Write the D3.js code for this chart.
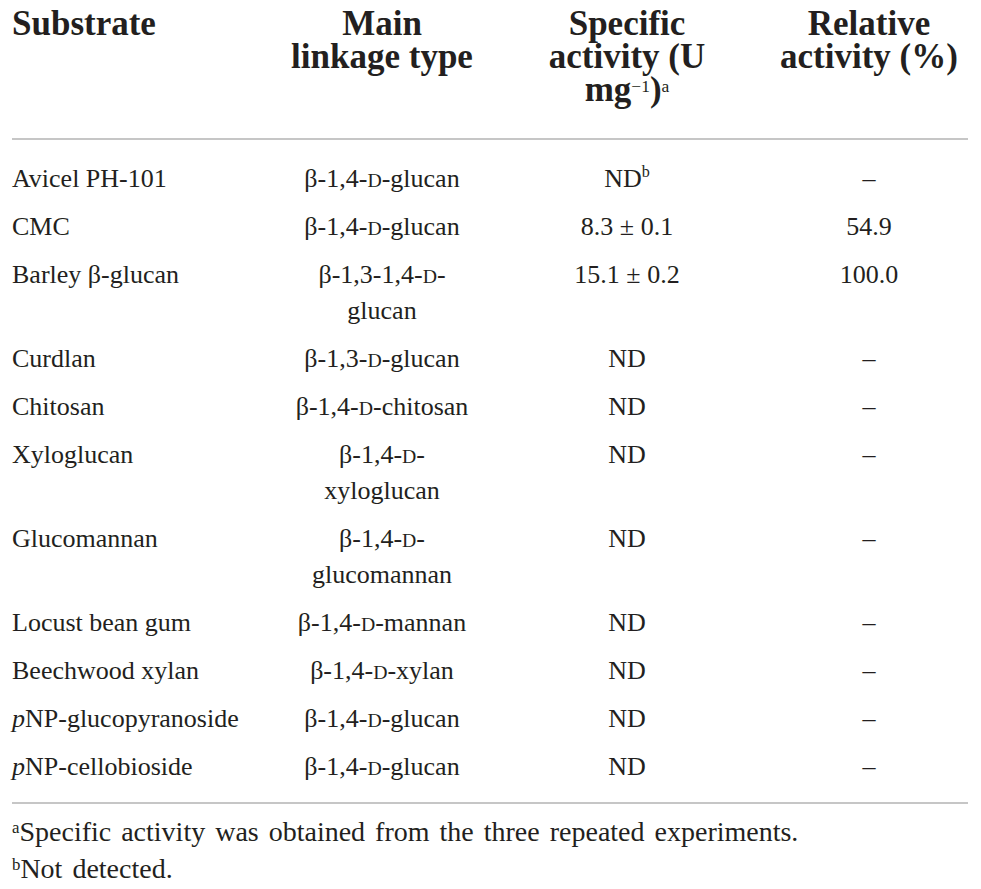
<!DOCTYPE html>
<html>
<head>
<meta charset="utf-8">
<script src="https://cdn.jsdelivr.net/npm/d3@7"></script>
<style>
  body { margin: 0; background: #fff; }
  svg text { font-family: "Liberation Serif", "DejaVu Serif", serif; fill: #231f20; }
</style>
</head>
<body>
<div id="table"></div>
<script>
// markup: _x_ italic, ~x~ small caps, ^x^ superscript
var headers = [
  ["Substrate"],
  ["Main", "linkage type"],
  ["Specific", "activity (U", "mg^\u22121^)^a^"],
  ["Relative", "activity (%)"]
];

var substrates = [
  "Avicel PH-101", "CMC", "Barley \u03b2-glucan", "Curdlan", "Chitosan",
  "Xyloglucan", "Glucomannan", "Locust bean gum", "Beechwood xylan",
  "_p_NP-glucopyranoside", "_p_NP-cellobioside"
];

var linkages = [
  ["\u03b2-1,4-~D~-glucan"],
  ["\u03b2-1,4-~D~-glucan"],
  ["\u03b2-1,3-1,4-~D~-", "glucan"],
  ["\u03b2-1,3-~D~-glucan"],
  ["\u03b2-1,4-~D~-chitosan"],
  ["\u03b2-1,4-~D~-", "xyloglucan"],
  ["\u03b2-1,4-~D~-", "glucomannan"],
  ["\u03b2-1,4-~D~-mannan"],
  ["\u03b2-1,4-~D~-xylan"],
  ["\u03b2-1,4-~D~-glucan"],
  ["\u03b2-1,4-~D~-glucan"]
];

var specificActivity = ["ND^b^", "8.3 \u00b1 0.1", "15.1 \u00b1 0.2", "ND", "ND", "ND", "ND", "ND", "ND", "ND", "ND"];
var relativeActivity = ["\u2013", "54.9", "100.0", "\u2013", "\u2013", "\u2013", "\u2013", "\u2013", "\u2013", "\u2013", "\u2013"];

var footnotes = [
  "^a^Specific activity was obtained from the three repeated experiments.",
  "^b^Not detected."
];

var W = 981, H = 889;
var colX = [12, 382, 627, 869];
var colAnchor = ["start", "middle", "middle", "middle"];
var headFs = 35, bodyFs = 26, footFs = 28;

var svg = d3.select("#table").append("svg")
  .attr("width", W)
  .attr("height", H);

function parse(s) {
  return s.split(/(_[^_]+_|~[^~]+~|\^[^^]+\^)/).filter(function(d){ return d.length; }).map(function(d){
    if (d[0] == "_") return {t: d.slice(1, -1), kind: "it"};
    if (d[0] == "~") return {t: d.slice(1, -1), kind: "sc"};
    if (d[0] == "^") return {t: d.slice(1, -1), kind: "sup"};
    return {t: d, kind: "n"};
  });
}

// one <text> per cell, one positioned tspan per line
// opt.supSize / opt.supRise are fractions of the font size
function cellText(g, lines, x, y, lh, fs, anchor, opt) {
  opt = opt || {};
  var supSize = opt.supSize || 0.62, supRise = opt.supRise || 0.38;
  var text = g.append("text")
    .attr("text-anchor", anchor)
    .style("font-size", fs + "px")
    .style("font-weight", opt.weight || "normal");
  if (opt.wordSpacing) text.style("word-spacing", opt.wordSpacing + "px");
  lines.forEach(function(str, i){
    var line = text.append("tspan").attr("x", x).attr("y", y + i * lh);
    var shift = 0;
    parse(str).forEach(function(seg){
      var ts = line.append("tspan").text(seg.t);
      var target = 0;
      if (seg.kind == "it") ts.style("font-style", "italic");
      if (seg.kind == "sc") ts.style("font-size", (fs * 0.76) + "px");
      if (seg.kind == "sup") {
        ts.style("font-size", (fs * supSize) + "px").style("font-weight", "normal");
        target = -fs * supRise;
      }
      if (target != shift) { ts.attr("dy", target - shift); shift = target; }
    });
  });
  return text;
}

// header
var head = svg.append("g").attr("class", "head");
headers.forEach(function(lines, c){
  cellText(head, lines, colX[c], 35, 33, headFs, colAnchor[c], {weight: "bold", supSize: 0.5, supRise: 0.26});
});

// rules
var rule = function(y) {
  svg.append("line")
    .attr("x1", 12).attr("x2", 968)
    .attr("y1", y).attr("y2", y)
    .attr("stroke", "#b3b3b3")
    .attr("stroke-width", 1.5);
};
rule(139);

// body rows
var rows = substrates.map(function(s, i){
  return [[s], linkages[i], [specificActivity[i]], [relativeActivity[i]]];
});
var lineH = 36, rowGap = 12, y0 = 187;
var body = svg.append("g").attr("class", "body");
var y = y0;
rows.forEach(function(cells){
  var n = d3.max(cells, function(c){ return c.length; });
  cells.forEach(function(lines, c){
    cellText(body, lines, colX[c], y, lineH, bodyFs, colAnchor[c]);
  });
  y += n * lineH + rowGap;
});

rule(803);

// footnotes
var foot = svg.append("g").attr("class", "foot");
footnotes.forEach(function(f, i){
  cellText(foot, [f], 12, 841 + i * 37, 37, footFs, "start", {supSize: 0.6, supRise: 0.3, wordSpacing: 3});
});
</script>
</body>
</html>
